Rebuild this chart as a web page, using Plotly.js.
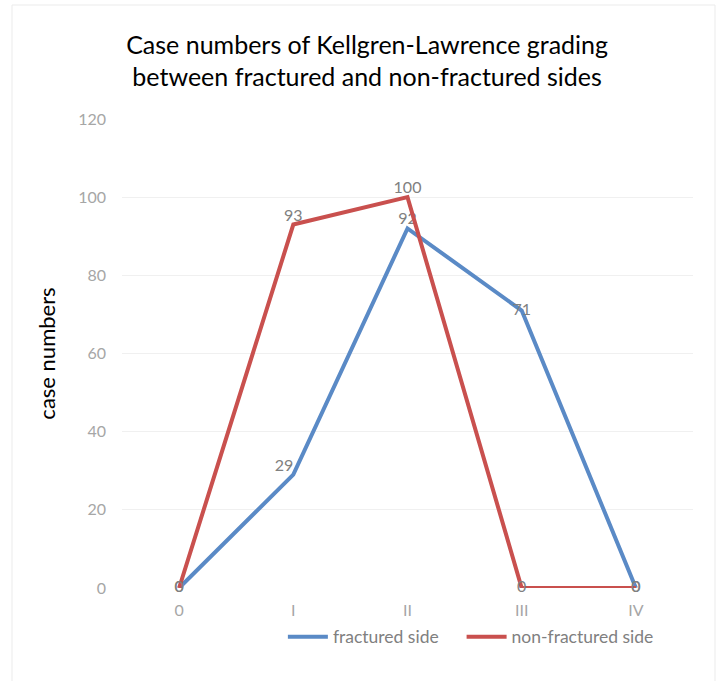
<!DOCTYPE html>
<html>
<head>
<meta charset="utf-8">
<script src="https://cdn.plot.ly/plotly-3.0.1.min.js"></script>
<style>
html,body{margin:0;padding:0;background:#fff;}
#chart{width:717px;height:681px;}
</style>
</head>
<body>
<div id="chart"></div>
<script>
const categories = ["0", "I", "II", "III", "IV"];
const fracturedSide = [0, 29, 92, 71, 0];
const nonFracturedSide = [0, 93, 100, 0, 0];
const yTickVals = [0, 20, 40, 60, 80, 100, 120];

const labelFont = {family: "Lato, 'Open Sans', sans-serif", size: 16, color: "#808080"};

const traces = [
  {
    x: categories, y: fracturedSide, name: "fractured side&nbsp;&nbsp;&nbsp;&nbsp;",
    type: "scatter", mode: "lines+text",
    line: {color: "#5A8AC6", width: 4},
    text: fracturedSide.map(String),
    textposition: ["middle center", "top left", "top center", "middle center", "middle center"],
    textfont: labelFont, cliponaxis: false
  },
  {
    x: categories, y: nonFracturedSide, name: "non-fractured side",
    type: "scatter", mode: "lines+text",
    line: {color: "#C9504E", width: 4},
    text: nonFracturedSide.map(String),
    textposition: ["middle center", "top center", "top center", "middle center", "middle center"],
    textfont: labelFont, cliponaxis: false
  }
];

const layout = {
  width: 717, height: 681,
  margin: {l: 122, r: 24, t: 119, b: 93},
  paper_bgcolor: "#fff", plot_bgcolor: "#fff",
  font: {family: "Lato, 'Open Sans', sans-serif"},
  title: {
    text: "Case numbers of Kellgren-Lawrence grading<br>between fractured and non-fractured sides",
    font: {family: "Lato, 'Open Sans', sans-serif", size: 25, color: "#000"},
    x: 0.512, xanchor: "center", y: 0.921, yanchor: "middle"
  },
  xaxis: {
    type: "category", categoryorder: "array", categoryarray: categories,
    range: [-0.5, 4.5],
    showgrid: false, zeroline: false, showline: false, ticks: "",
    tickfont: {size: 16, color: "#A6A6A6"}, ticklabelstandoff: 11
  },
  yaxis: {
    range: [0, 120], tickvals: yTickVals,
    showgrid: true, gridcolor: "#F0F0F0", gridwidth: 1,
    zeroline: false, showline: false, ticks: "",
    tickfont: {size: 16, color: "#A6A6A6"},
    ticklabelstandoff: 15,
    title: {text: "case numbers", font: {size: 22, color: "#000"}, standoff: 16}
  },
  showlegend: true,
  legend: {
    orientation: "h", x: 0.611, xanchor: "center", y: -0.104, yanchor: "middle",
    font: {size: 17.5, color: "#808080"}, itemwidth: 40
  },
  shapes: [{
    type: "rect", xref: "paper", yref: "paper",
    x0: (12 - 122) / 571, x1: (715 - 122) / 571,
    y0: (588 - 690) / 469, y1: (588 - 5) / 469,
    line: {color: "#EBEBEB", width: 1}, fillcolor: "rgba(0,0,0,0)", layer: "below"
  }]
};

Plotly.newPlot("chart", traces, layout, {displayModeBar: false, staticPlot: true});
</script>
</body>
</html>
